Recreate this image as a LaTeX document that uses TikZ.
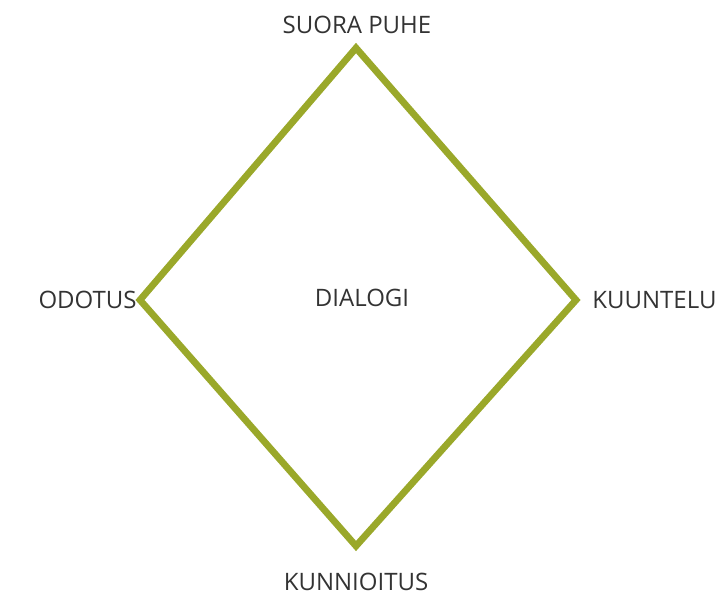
\documentclass[tikz,border=0pt]{standalone}
\usepackage{fontspec}
\setmainfont{Open Sans}
\usetikzlibrary{positioning}
\definecolor{dolive}{HTML}{9AA82A}
\definecolor{dtext}{HTML}{333333}
\tikzset{
  lbl/.style={text=dtext, font=\fontsize{12pt}{14pt}\selectfont, inner sep=0pt},
  edge/.style={draw=dolive, line width=3.4pt, line join=miter},
}
\begin{document}
\begin{tikzpicture}[x=0.5pt, y=-0.5pt]
  \useasboundingbox (0,0) rectangle (719,595);

  % kulmat
  \coordinate (top) at (356,48);
  \coordinate (lft) at (140,300);
  \coordinate (rgt) at (576,300);
  \coordinate (bot) at (356,546);

  % neljä sivua
  \draw[edge] (top) -- (rgt) -- (bot) -- (lft) -- cycle;

  % tekstit
  \node[lbl] (suora) at (357,25) {SUORA PUHE};
  \node[lbl, anchor=east] (odotus) at (137,300) {ODOTUS};
  \node[lbl, anchor=west] (kuuntelu) at (592,300) {KUUNTELU};
  \node[lbl] (kunnioitus) at (356,582) {KUNNIOITUS};
  \node[lbl] (dialogi) at (362,298) {DIALOGI};

\end{tikzpicture}
\end{document}
